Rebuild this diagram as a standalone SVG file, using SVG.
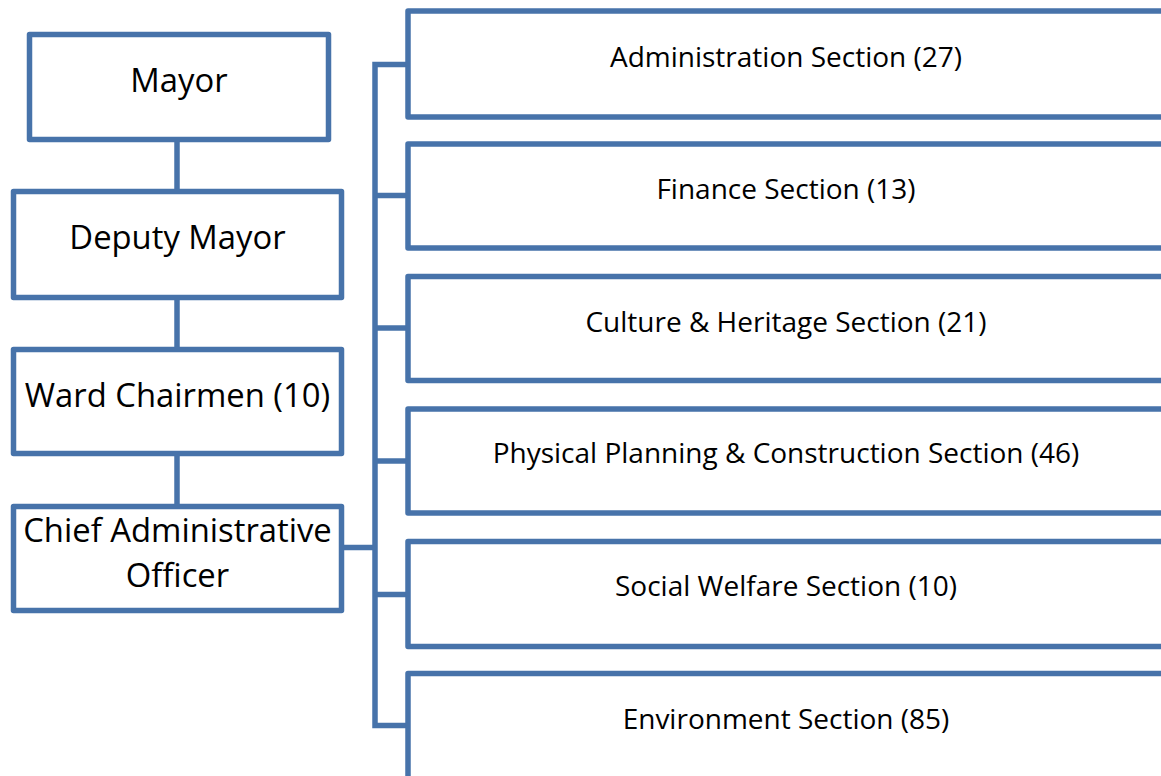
<svg xmlns="http://www.w3.org/2000/svg" width="1161" height="776" viewBox="0 0 1161 776">
<style>
.box{fill:#fff;stroke:#4773AA;stroke-width:5.5;stroke-linejoin:round}
.ln{fill:none;stroke:#4773AA;stroke-width:5.5}
.t{font-family:"Open Sans","Noto Sans",sans-serif;fill:#000;text-anchor:middle}
.l{font-size:32.8px}
.r{font-size:28px}
</style>
<rect width="1161" height="776" fill="#fff"/>
<g id="connectors">
<line class="ln" x1="177" y1="139" x2="177" y2="192"/>
<line class="ln" x1="177" y1="297" x2="177" y2="350"/>
<line class="ln" x1="177" y1="454" x2="177" y2="507"/>
<line class="ln" x1="340" y1="547.5" x2="376" y2="547.5" stroke-width="8"/>
<polyline class="ln" points="408,64.5 375,64.5 375,725.5 408,725.5"/>
<line class="ln" x1="375" y1="195.5" x2="408" y2="195.5"/>
<line class="ln" x1="375" y1="328" x2="408" y2="328"/>
<line class="ln" x1="375" y1="461" x2="408" y2="461"/>
<line class="ln" x1="375" y1="594.5" x2="408" y2="594.5"/>
</g>
<g id="mayor"><rect class="box" x="29.5" y="34.5" width="299" height="105"/><text class="t l" x="179" y="92">Mayor</text></g>
<g id="deputy"><rect class="box" x="13.5" y="191.5" width="328" height="106"/><text class="t l" x="177.5" y="249">Deputy Mayor</text></g>
<g id="ward"><rect class="box" x="13.5" y="349.5" width="328" height="104"/><text class="t l" x="177.5" y="407">Ward Chairmen (10)</text></g>
<g id="cao"><rect class="box" x="13.5" y="506.5" width="328" height="104"/><text class="t l" x="177.5" y="542">Chief Administrative</text><text class="t l" x="177.5" y="587">Officer</text></g>
<g id="admin"><rect class="box" x="408" y="11" width="760" height="106"/><text class="t r" x="786" y="67">Administration Section (27)</text></g>
<g id="finance"><rect class="box" x="408" y="144" width="760" height="104"/><text class="t r" x="786" y="199">Finance Section (13)</text></g>
<g id="culture"><rect class="box" x="408" y="276.5" width="760" height="104"/><text class="t r" x="786" y="332">Culture &amp; Heritage Section (21)</text></g>
<g id="planning"><rect class="box" x="408" y="409" width="760" height="104"/><text class="t r" x="786" y="463">Physical Planning &amp; Construction Section (46)</text></g>
<g id="welfare"><rect class="box" x="408" y="541.5" width="760" height="105"/><text class="t r" x="786" y="596">Social Welfare Section (10)</text></g>
<g id="environment"><rect class="box" x="408" y="673.5" width="760" height="106"/><text class="t r" x="786" y="729">Environment Section (85)</text></g>
</svg>
